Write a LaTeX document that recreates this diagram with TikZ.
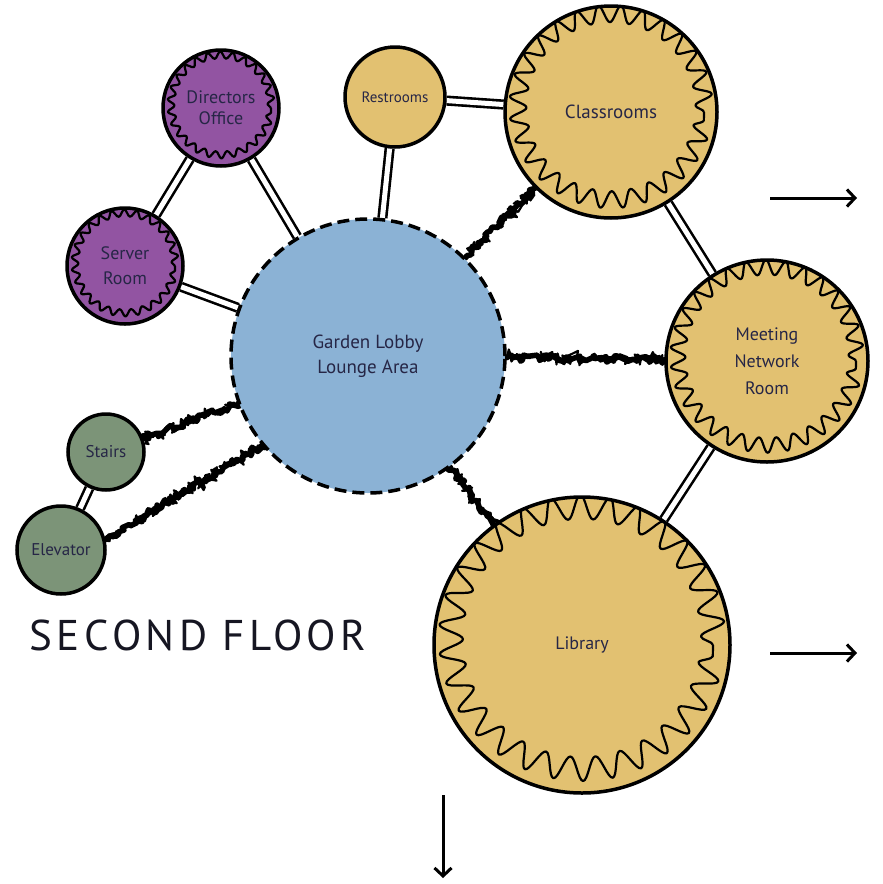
\documentclass[tikz,border=0pt]{standalone}
\usepackage{fontspec}
\setmainfont{PT Sans}
\newfontfamily\floorfont[LetterSpace=10]{PT Sans}
\usetikzlibrary{decorations.pathmorphing,arrows.meta,backgrounds}

\definecolor{roompurple}{RGB}{146,84,162}
\definecolor{roomblue}{RGB}{139,178,213}
\definecolor{roomyellow}{RGB}{226,193,113}
\definecolor{roomgreen}{RGB}{124,148,120}
\definecolor{roomtext}{RGB}{38,38,70}
\definecolor{floortext}{RGB}{22,22,34}

\tikzset{
  room/.style={circle, draw=black, line width=3.5pt, inner sep=0pt, align=center,
    text=roomtext, minimum size=#1},
  wavy/.style n args={3}{path picture={
    \draw[line width=2.2pt, line join=round, decorate,
      decoration={snake, amplitude=#2, segment length={2*pi*#1/(#3+0.03)}}]
      (path picture bounding box.center) circle (#1pt);}},
  link/.style={line width=2.6pt, double=white, double distance=5pt},
  buzz/.style={line width=5.5pt, line join=round, line cap=round, decorate,
    decoration={random steps, segment length=2.5pt, amplitude=3.5pt},
    postaction={draw, line width=2.2pt, decorate,
      decoration={random steps, segment length=2pt, amplitude=5.5pt}}},
  flow/.style={line width=3pt, -{Straight Barb[length=8pt,width=17pt,line width=3pt]}},
}

\begin{document}
\begin{tikzpicture}[x=1pt,y=-1pt]
\pgfmathsetseed{7}
\useasboundingbox (0,0) rectangle (883,884);

% rooms
\node[room=116pt, fill=roompurple, wavy={50}{3.5}{26}, font=\fontsize{18}{21}\selectfont] (dir) at (221,108) {Directors\\Office};
\node[room=116pt, fill=roompurple, wavy={50}{3.5}{26}, font=\fontsize{18}{25}\selectfont] (srv) at (125,266) {Server\\Room};
\node[room=100pt, fill=roomyellow, font=\fontsize{15}{16}\selectfont] (rest) at (395,97) {Restrooms};
\node[room=212pt, fill=roomyellow, wavy={93}{8.5}{28}, font=\fontsize{19}{20}\selectfont] (cls) at (611,112) {Classrooms};
\node[room=274pt, fill=roomblue, dash pattern=on 12pt off 6pt, font=\fontsize{19}{25}\selectfont] (lob) at (368,356) {Garden Lobby\\Lounge Area};
\node[room=202pt, fill=roomyellow, wavy={89}{7.5}{30}, font=\fontsize{18}{27}\selectfont] (meet) at (767,361) {Meeting\\Network\\Room};
\node[room=296pt, fill=roomyellow, wavy={131}{12}{30}, font=\fontsize{18}{20}\selectfont] (lib) at (582,645) {Library};
\node[room=76pt, fill=roomgreen, font=\fontsize{17}{18}\selectfont] (st) at (106,452) {Stairs};
\node[room=88pt, fill=roomgreen, font=\fontsize{17}{18}\selectfont] (el) at (61,550) {Elevator};

\node[text=floortext, font=\floorfont\fontsize{43}{44}\selectfont] (floor) at (198,635) {SECOND FLOOR};

% connections
\begin{scope}[on background layer]
\draw[link] (dir) -- (srv);
\draw[link] (dir) -- (lob);
\draw[link] (srv) -- (lob);
\draw[link] (rest) -- (lob);
\draw[link] (rest) -- (cls);
\draw[link] (cls) -- (meet);
\draw[link] (meet) -- (lib);
\draw[link] (st) -- (el);
\draw[buzz] (lob) -- (cls);
\draw[buzz] (lob) -- (meet);
\draw[buzz] (lob) -- (lib);
\draw[buzz] (lob) -- (st);
\draw[buzz] (lob.220) -- (el.13);
\end{scope}

% exits
\coordinate (e1a) at (770,198);
\coordinate (e1b) at (857,198);
\coordinate (e2a) at (770,653);
\coordinate (e2b) at (857,653);
\coordinate (e3a) at (443,795);
\coordinate (e3b) at (443,878);
\draw[flow] (e1a) -- (e1b);
\draw[flow] (e2a) -- (e2b);
\draw[flow] (e3a) -- (e3b);
\end{tikzpicture}
\end{document}
